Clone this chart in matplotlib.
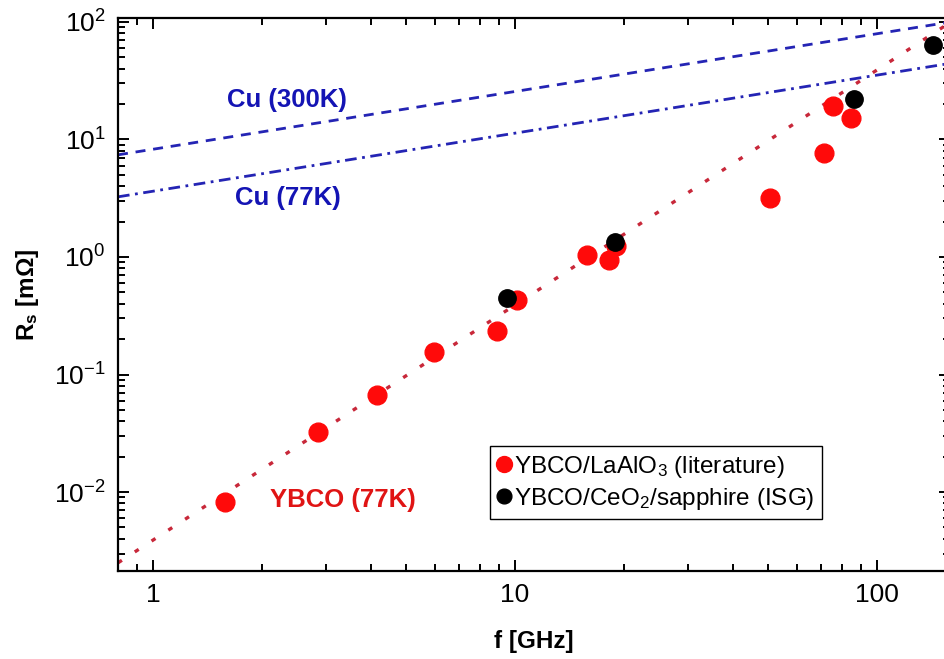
import numpy as np
import matplotlib.pyplot as plt

plt.rcParams['font.family'] = ['Liberation Sans', 'DejaVu Sans']
plt.rcParams['mathtext.default'] = 'regular'
plt.rcParams['axes.unicode_minus'] = False

# surface resistance data, f in GHz, Rs in mOhm
lit_f = [1.58, 2.86, 4.16, 5.97, 8.92, 10.1, 15.8, 18.2, 19.0, 50.6, 71.4, 75.6, 84.8]
lit_rs = [0.0083, 0.0324, 0.067, 0.155, 0.234, 0.43, 1.04, 0.94, 1.25, 3.18, 7.67, 19.3, 15.2]

isg_f = [9.5, 18.9, 86.4, 142.8]
isg_rs = [0.448, 1.34, 22.1, 63.7]

# reference lines (straight in log-log), end points
line_f = [0.8, 160]
cu300_rs = [7.4, 100]
cu77_rs = [3.25, 44.5]
ybco_rs = [2.5e-3, 100]

fig = plt.figure(figsize=(9.45, 6.59), dpi=100)
ax = fig.add_axes([118 / 945, 88 / 659, 832 / 945, 553 / 659])

ax.plot(line_f, cu300_rs, color='#2424b4', lw=2.0, dashes=(3.6, 2.8))
ax.plot(line_f, cu77_rs, color='#2424b4', lw=2.0, dashes=(4.2, 2.0, 1.0, 2.0))
ax.plot(line_f, ybco_rs, color='#c8283a', lw=2.4, dashes=(1.4, 4.6))

ax.plot(lit_f, lit_rs, 'o', color='#ff0a0a', ms=13.5, mec='#ff0a0a',
        label='YBCO/LaAlO$_3$ (literature)')
ax.plot(isg_f, isg_rs, 'o', color='black', ms=12.5,
        label='YBCO/CeO$_2$/sapphire (ISG)')

ax.set_xscale('log')
ax.set_yscale('log')
ax.set_xlim(0.8, 159)
ax.set_ylim(2.13e-3, 108)

ax.text(0.203, 0.852, 'Cu (300K)', transform=ax.transAxes, color='#1414b4',
        fontsize=18.5, fontweight='bold', ha='center', va='center')
ax.text(0.204, 0.674, 'Cu (77K)', transform=ax.transAxes, color='#1414b4',
        fontsize=18.5, fontweight='bold', ha='center', va='center')
ax.text(0.270, 0.128, 'YBCO (77K)', transform=ax.transAxes, color='#e01414',
        fontsize=18.5, fontweight='bold', ha='center', va='center')

ax.set_xlabel('f [GHz]', fontsize=17.5, fontweight='bold', labelpad=16)
ax.set_ylabel('R$_s$ [m$\\Omega$]', fontsize=17.5, fontweight='bold', labelpad=9)

for s in ax.spines.values():
    s.set_linewidth(1.6)
ax.tick_params(which='both', direction='in', top=True, right=True, width=1.4)
ax.tick_params(which='major', length=8, labelsize=19, pad=9)
ax.tick_params(which='minor', length=5)
ax.set_xticks([1, 10, 100])
ax.set_xticklabels(['1', '10', '100'])

leg = ax.legend(loc='lower left', bbox_to_anchor=(0.447, 0.094), fontsize=17.5,
                frameon=True, fancybox=False, edgecolor='black', framealpha=1,
                handlelength=0.6, handletextpad=0.1, borderpad=0.3,
                borderaxespad=0, labelspacing=0.25, markerscale=0.85)
leg.get_frame().set_linewidth(1.0)

fig.savefig('out.png', dpi=100)
